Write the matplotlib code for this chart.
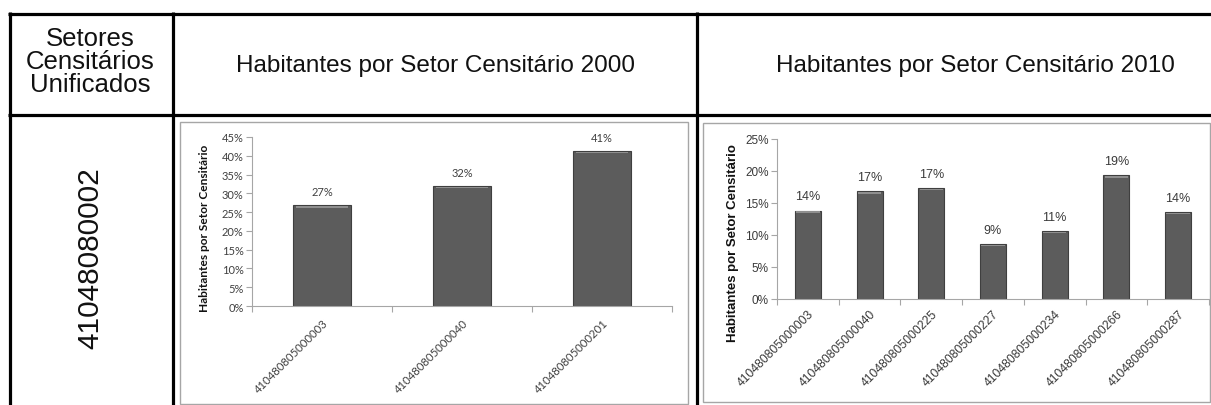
import matplotlib
matplotlib.use("Agg")
import matplotlib.pyplot as plt
from matplotlib.lines import Line2D
from matplotlib.patches import Rectangle
from matplotlib.ticker import FixedLocator, PercentFormatter

W, H = 1211, 406

# ---- data ----
header_col1 = "Setores\nCensitários\nUnificados"
header_2000 = "Habitantes por Setor Censitário 2000"
header_2010 = "Habitantes por Setor Censitário 2010"
unified_sector = "41048080002"
ylabel = "Habitantes por Setor Censitário"

sectors_2000 = ["410480805000003", "410480805000040", "410480805000201"]
values_2000 = [26.8, 31.9, 41.3]

sectors_2010 = ["410480805000003", "410480805000040", "410480805000225",
                "410480805000227", "410480805000234", "410480805000266",
                "410480805000287"]
values_2010 = [13.8, 16.8, 17.3, 8.6, 10.6, 19.3, 13.6]

fig = plt.figure(figsize=(W / 100, H / 100), dpi=100)
fig.patch.set_facecolor("white")


def fx(x):
    return x / W


def fy(y):
    return 1 - y / H


def hline(y, x0, x1, lw=2.3, color="black"):
    fig.add_artist(Line2D([fx(x0), fx(x1)], [fy(y), fy(y)], color=color,
                          lw=lw, solid_capstyle="butt"))


def vline(x, y0, y1, lw=2.3, color="black"):
    fig.add_artist(Line2D([fx(x), fx(x)], [fy(y0), fy(y1)], color=color,
                          lw=lw, solid_capstyle="butt"))


def box(x0, y0, x1, y1):
    fig.add_artist(Rectangle((fx(x0), fy(y1)), fx(x1) - fx(x0), fy(y0) - fy(y1),
                             fill=False, edgecolor="#a6a6a6", lw=1.0))


# ---- table grid ----
hline(14.5, 7.5, W)
hline(116, 7.5, W)
vline(9.5, 13, H)
vline(172.5, 13, H)
vline(697, 13, H)

# ---- header texts ----
fig.text(fx(90), fy(62), header_col1, ha="center", va="center",
         family="Liberation Sans", fontsize=18.5, linespacing=0.93, color="#111111")
fig.text(fx(435), fy(66), header_2000, ha="center", va="center",
         family="Liberation Sans", fontsize=17.5, color="#111111")
fig.text(fx(975), fy(66), header_2010, ha="center", va="center",
         family="Liberation Sans", fontsize=17.5, color="#111111")
fig.text(fx(90), fy(258), unified_sector, ha="center", va="center",
         rotation=90, family="Liberation Sans", fontsize=21.5, color="#111111")

# ---- chart boxes ----
box(180, 123, 688, 405)
box(703, 124, 1210, 403)


def make_chart(left, right, top, bottom, ymax, ystep, cats, vals, font, tcolor,
               ticksize, labelsize, ylabsize, xlabsize, ylab_x, ylab_y, width,
               xpad):
    ax = fig.add_axes([fx(left), fy(bottom), fx(right) - fx(left), fy(top) - fy(bottom)])
    ax.set_facecolor("none")
    n = len(cats)
    xs = list(range(n))
    bars = ax.bar(xs, vals, width=width, color="#5c5c5c", edgecolor="#3f3f3f",
                  linewidth=0.8, zorder=2)
    # soft highlight on the top of each bar
    ax.bar(xs, [ymax * 0.008] * n, bottom=[v - ymax * 0.013 for v in vals],
           width=width * 0.9, color="#8f8f8f", linewidth=0, zorder=3)
    for b, v in zip(bars, vals):
        ax.annotate(f"{v:.0f}%", (b.get_x() + b.get_width() / 2, v),
                    xytext=(0, 6), textcoords="offset points", ha="center",
                    va="bottom", family=font, fontsize=labelsize, color=tcolor)
    ax.set_xlim(-0.5, n - 0.5)
    ax.set_ylim(0, ymax)
    ax.yaxis.set_major_locator(FixedLocator([i * ystep for i in range(int(round(ymax / ystep)) + 1)]))
    ax.yaxis.set_major_formatter(PercentFormatter(decimals=0))
    ax.set_xticks(xs)
    ax.set_xticklabels(cats, rotation=45, ha="right", va="top",
                       rotation_mode="anchor", family=font, fontsize=xlabsize,
                       color=tcolor)
    ax.set_xticks([i - 0.5 for i in range(n + 1)], minor=True)
    ax.tick_params(axis="x", which="major", length=0, pad=xpad)
    ax.tick_params(axis="x", which="minor", length=4, color="#a6a6a6", width=0.8)
    ax.tick_params(axis="y", length=4, color="#a6a6a6", width=0.8, pad=2,
                   labelsize=ticksize, labelcolor=tcolor)
    for lab in ax.get_yticklabels():
        lab.set_family(font)
    for s in ("top", "right"):
        ax.spines[s].set_visible(False)
    for s in ("left", "bottom"):
        ax.spines[s].set_color("#a6a6a6")
        ax.spines[s].set_linewidth(0.8)
    fig.text(fx(ylab_x), fy(ylab_y), ylabel, rotation=90, ha="center",
             va="center", family=font, fontweight="bold", fontsize=ylabsize,
             color="#111111")
    return ax


make_chart(252, 672, 138, 307, 45, 5, sectors_2000, values_2000, "Lato",
           "#404040", 8.0, 8.0, 8.6, 8.2, 205, 228, 0.41, 8)
make_chart(777, 1209, 140, 300, 25, 5, sectors_2010, values_2010, "Liberation Sans",
           "#3a3a3a", 8.5, 9.0, 9.5, 8.8, 733, 243, 0.42, 6)

fig.savefig("out.png", dpi=100, facecolor="white")
